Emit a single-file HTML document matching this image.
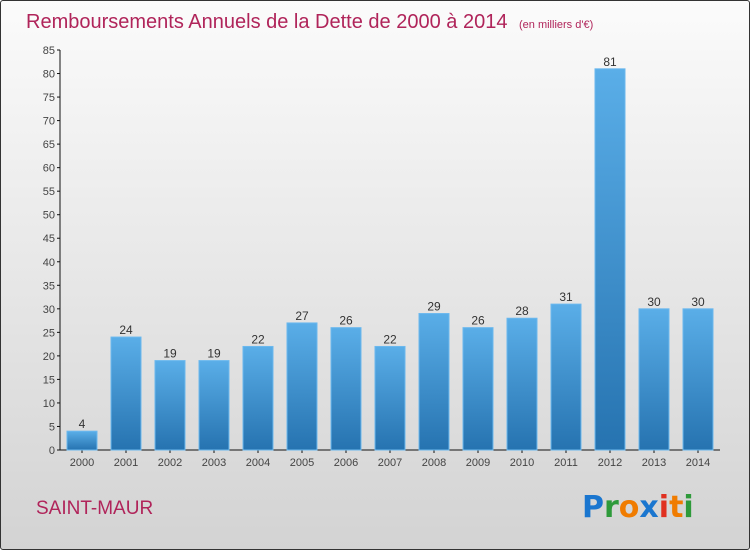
<!DOCTYPE html>
<html><head><meta charset="utf-8"><style>
body{margin:0;width:750px;height:550px;overflow:hidden;font-family:"Liberation Sans","DejaVu Sans",sans-serif}
#frame{position:absolute;left:0;top:0;width:748px;height:548px;border:1px solid #333;border-radius:3px;background:linear-gradient(#fbfbfb,#d3d3d3)}
</style></head><body>
<div id="frame"></div>
<svg id="c" width="750" height="550" style="position:absolute;left:0;top:0">
<defs><linearGradient id="bg" x1="0" y1="0" x2="0" y2="1"><stop offset="0" stop-color="#5aaee8"/><stop offset="1" stop-color="#2673b0"/></linearGradient></defs>
<text x="26" y="28" font-size="20" fill="#b0245a">Remboursements Annuels de la Dette de 2000 à 2014 <tspan font-size="11" dx="6">(en milliers d'€)</tspan></text>
<text x="36" y="514" font-size="19" fill="#b0245a">SAINT-MAUR</text>
<g font-size="30" font-weight="bold" font-family="'DejaVu Sans',sans-serif">
<text x="582" y="517" fill="#1a76cf">P<tspan fill="#2e9a3a">r</tspan><tspan fill="#f07c00">o</tspan><tspan fill="#1a76cf">x</tspan><tspan fill="#e03020">i</tspan><tspan fill="#f07c00">t</tspan><tspan fill="#2e9a3a">i</tspan></text></g>
<g id="axes"></g><g id="bars"></g>
</svg>
<script>
const categories=["2000","2001","2002","2003","2004","2005","2006","2007","2008","2009","2010","2011","2012","2013","2014"];
const values=[4,24,19,19,22,27,26,22,29,26,28,31,81,30,30];
const yTicks=[0,5,10,15,20,25,30,35,40,45,50,55,60,65,70,75,80,85];
const NS="http://www.w3.org/2000/svg";
const y0=450,yTop=50,yMax=85;
function yScale(v){return y0-(v/yMax)*(y0-yTop);}
function xScale(i){return 82+44*i;}
function mk(t,a,p){const e=document.createElementNS(NS,t);for(const k in a)e.setAttribute(k,a[k]);p.appendChild(e);return e;}
const ax=document.getElementById('axes'),bs=document.getElementById('bars');
let l=mk('line',{x1:60,y1:yTop,x2:60,y2:y0,stroke:'#111'},ax);


l=mk('line',{x1:60,y1:y0,x2:720,y2:y0,stroke:'#111'},ax);


yTicks.forEach(t=>{const y=yScale(t);
mk('line',{x1:57,y1:y,x2:60,y2:y,stroke:'#111'},ax);
const tx=mk('text',{x:55,y:y+4,'text-anchor':'end','font-size':11,fill:'#444'},ax);tx.textContent=t;

});
categories.forEach((c,i)=>{const x=xScale(i),v=values[i],y=yScale(v);
const r=mk('rect',{x:x-15,y:y,width:30,height:y0-y,fill:'url(#bg)',stroke:'#6bb8ee','stroke-width':1},bs);


const vl=mk('text',{x:x,y:y-3,'text-anchor':'middle','font-size':12,fill:'#333'},bs);vl.textContent=v;


mk('line',{x1:x,y1:y0,x2:x,y2:y0+3,stroke:'#111'},ax);
const xl=mk('text',{x:x,y:466,'text-anchor':'middle','font-size':11,fill:'#444'},ax);xl.textContent=c;

});
</script>
</body></html>
